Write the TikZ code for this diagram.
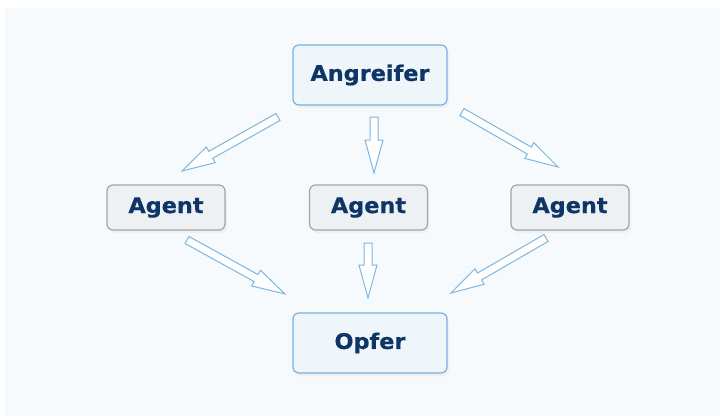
\documentclass[tikz,border=0pt]{standalone}
\usepackage{fontspec}
\setmainfont{DejaVu Sans}[BoldFeatures={FakeBold=0.6, FakeStretch=1.04}]
\usetikzlibrary{calc,shadows}
\definecolor{panel}{HTML}{F6FAFD}
\definecolor{navy}{HTML}{0E3565}
\definecolor{bluebd}{HTML}{7AB0DE}
\definecolor{bluefill}{HTML}{EEF6FA}
\definecolor{graybd}{HTML}{A3A6A8}
\definecolor{grayfill}{HTML}{EEF1F4}
\definecolor{arrowbd}{HTML}{7DB6E2}
\tikzset{
  mainbox/.style={draw=bluebd, line width=1.2pt, fill=bluefill, rounded corners=6pt,
    minimum width=154pt, minimum height=60pt, text=navy,
    font=\fontsize{21.5}{24}\selectfont\bfseries,
    drop shadow={shadow xshift=2pt, shadow yshift=-3pt, opacity=0.08}},
  agentbox/.style={draw=graybd, line width=1.2pt, fill=grayfill, rounded corners=6pt,
    minimum width=118pt, minimum height=45pt, text=navy,
    font=\fontsize{21.5}{24}\selectfont\bfseries,
    drop shadow={shadow xshift=2pt, shadow yshift=-3pt, opacity=0.08}},
  harrowstyle/.style={draw=arrowbd, line width=1pt, fill=white, line join=miter}
}
\newcommand\harrow[2]{%
  \path (#1) coordinate (hA) (#2) coordinate (hB);
  \coordinate (hH) at ($(hB)!33pt!(hA)$);
  \filldraw[harrowstyle] ($(hA)!4pt!90:(hB)$) -- ($(hH)!4pt!90:(hB)$) -- ($(hH)!9pt!90:(hB)$)
    -- (hB) -- ($(hH)!9pt!-90:(hB)$) -- ($(hH)!4pt!-90:(hB)$) -- ($(hA)!4pt!-90:(hB)$) -- cycle;}
\begin{document}
\begin{tikzpicture}[x=1pt, y=-1pt]
\useasboundingbox (0,0) rectangle (720,418);
\fill[white] (0,0) rectangle (720,418);
\fill[panel] (5,8) rectangle (720,416);

\node[mainbox] (ang) at (370,75) {Angreifer};
\node[agentbox] (a1) at (166,207.5) {Agent};
\node[agentbox] (a2) at (368.5,207.5) {Agent};
\node[agentbox] (a3) at (570,207.5) {Agent};
\node[mainbox] (opf) at (370,343) {Opfer};

\coordinate (s1) at (278,117); \coordinate (e1) at (182,171);
\coordinate (s2) at (374,117); \coordinate (e2) at (374,173);
\coordinate (s3) at (462,112); \coordinate (e3) at (558,167);
\coordinate (s4) at (187,240); \coordinate (e4) at (285,294);
\coordinate (s5) at (368,243); \coordinate (e5) at (368,298);
\coordinate (s6) at (546,238); \coordinate (e6) at (451,293);

\harrow{s1}{e1}
\harrow{s2}{e2}
\harrow{s3}{e3}
\harrow{s4}{e4}
\harrow{s5}{e5}
\harrow{s6}{e6}
\end{tikzpicture}
\end{document}
